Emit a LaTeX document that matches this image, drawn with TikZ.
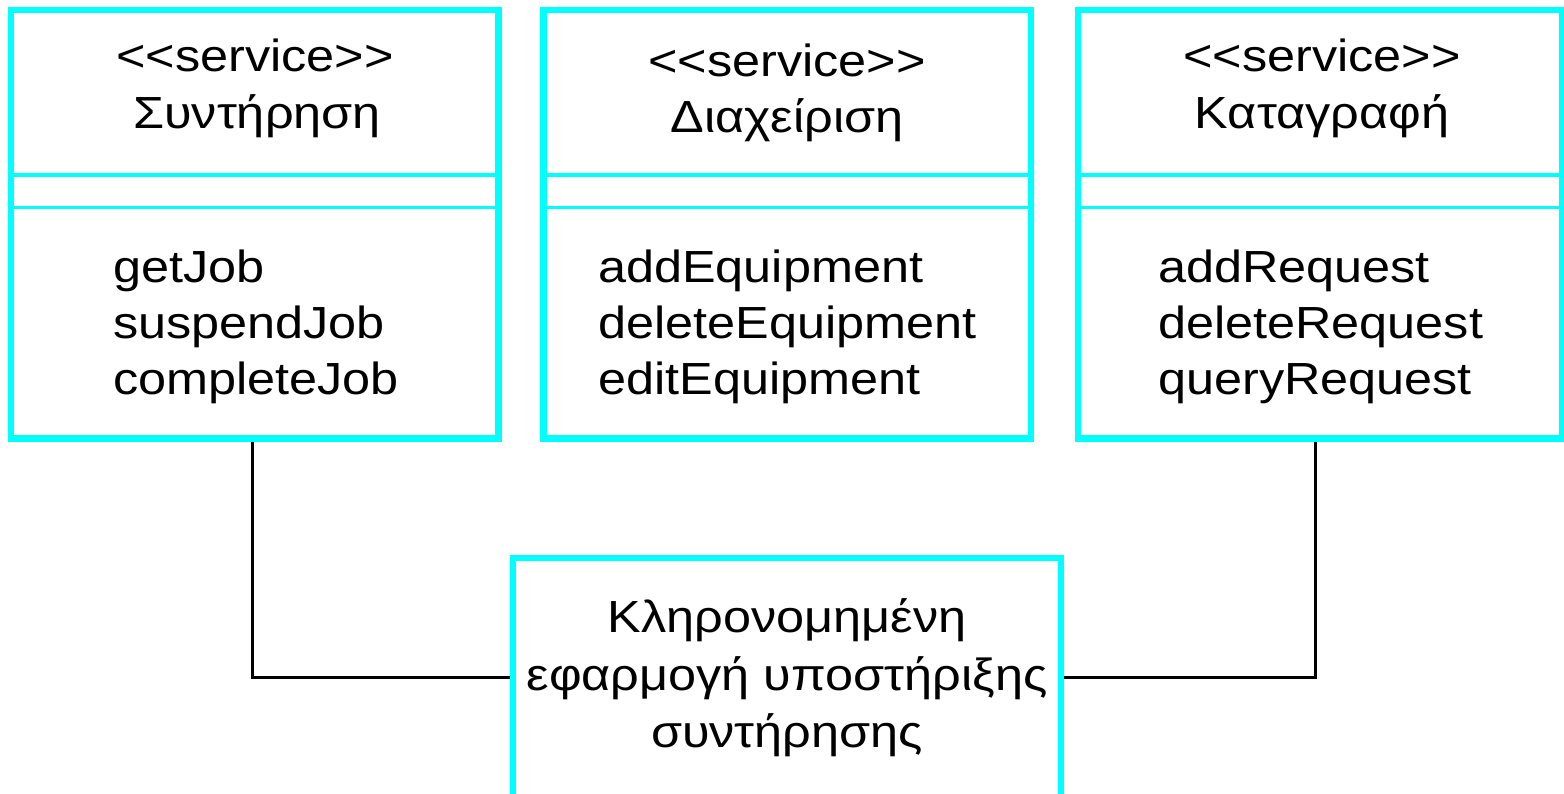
\documentclass[tikz,border=0pt]{standalone}
\usepackage{fontspec}
\newfontfamily\arialf[FakeStretch=1.12]{Liberation Sans}
\definecolor{aqua}{RGB}{0,255,255}
\begin{document}
\begin{tikzpicture}[x=1bp,y=-1bp,
  classbox/.style={draw=aqua, line width=6.5bp, rectangle, inner sep=0pt, fill=white},
  sepline/.style={draw=aqua, line width=3.5bp},
  conn/.style={draw=black, line width=3bp},
  txt/.style={inner sep=0pt, font=\arialf\fontsize{45bp}{56bp}\selectfont, text=black},
  op/.style={txt, anchor=base west},
  hd/.style={txt, anchor=base}]
\useasboundingbox (0,0) rectangle (1564,793);
% class boxes
\node[classbox, minimum width=487.5bp, minimum height=428.5bp] (s1) at (254.75,224.25) {};
\node[classbox, minimum width=487.5bp, minimum height=428.5bp] (s2) at (787.25,224.25) {};
\node[classbox, minimum width=484.5bp, minimum height=428.5bp] (s3) at (1320.25,224.25) {};
\node[classbox, minimum width=548bp, minimum height=239bp] (leg) at (787,677.5) {};
% separators
\foreach \b in {s1,s2,s3}{
  \draw[sepline] (\b.west |- 0,175) -- (\b.east |- 0,175);
  \draw[sepline] (\b.west |- 0,207.5) -- (\b.east |- 0,207.5);
}
% headers
\node[hd] (h1a) at (255,72) {<<service>>};
\node[hd] (h1b) at (257,128) {Συντήρηση};
\node[hd] (h2a) at (787,76.5) {<<service>>};
\node[hd] (h2b) at (787,132.5) {Διαχείριση};
\node[hd] (h3a) at (1322,72) {<<service>>};
\node[hd] (h3b) at (1322,128) {Καταγραφή};
% operations
\node[op] (o11) at (113,282) {getJob};
\node[op] (o12) at (113,338) {suspendJob};
\node[op] (o13) at (113,394) {completeJob};
\node[op] (o21) at (598,282) {addEquipment};
\node[op] (o22) at (598,338) {deleteEquipment};
\node[op] (o23) at (598,394) {editEquipment};
\node[op] (o31) at (1158,282) {addRequest};
\node[op] (o32) at (1158,338) {deleteRequest};
\node[op] (o33) at (1158,394) {queryRequest};
% legacy text
\node[hd] (l1) at (787,632) {Κληρονομημένη};
\node[hd] (l2) at (787,690) {εφαρμογή υποστήριξης};
\node[hd] (l3) at (787,747) {συντήρησης};
% connectors
\draw[conn] ([xshift=-2bp]s1.south) |- (leg.west);
\draw[conn] ([xshift=-5bp]s3.south) |- (leg.east);
\end{tikzpicture}
\end{document}
